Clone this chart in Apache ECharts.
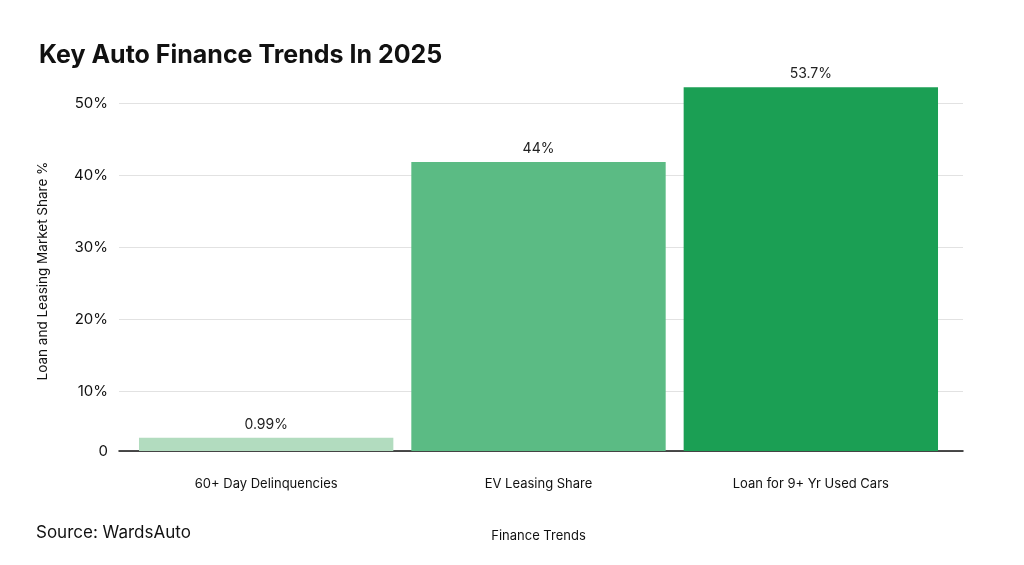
<!DOCTYPE html>
<html>
<head>
<meta charset="utf-8">
<script src="https://cdn.jsdelivr.net/npm/echarts@6/dist/echarts.min.js"></script>
<style>
  html, body { margin: 0; padding: 0; background: #fff; }
  #chart { width: 1024px; height: 565px; }
</style>
</head>
<body>
<div id="chart"></div>
<script>
const categories = ['60+ Day Delinquencies', 'EV Leasing Share', 'Loan for 9+ Yr Used Cars'];
// bar heights as drawn in the picture (axis baseline sits a bit above zero)
const barValues = [3.5, 41.8, 52.2];
const barLabels = ['0.99%', '44%', '53.7%'];
const barColors = ['#b2dcbf', '#5bbb84', '#1b9f54'];
const yTicks = [10, 20, 30, 40, 50];
const yMin = 1.67;
const yMax = 55;

const font = 'Inter, "Noto Sans", sans-serif';

const chart = echarts.init(document.getElementById('chart'), null, { renderer: 'canvas' });

const option = {
  animation: false,
  textStyle: { fontFamily: font },
  title: {
    text: 'Key Auto Finance Trends In 2025',
    left: 34,
    top: 38,
    textStyle: { fontFamily: font, fontSize: 25, fontWeight: 'bold', color: '#111' }
  },
  graphic: [
    {
      type: 'text',
      left: 36,
      top: 524,
      style: { text: 'Source: WardsAuto', font: '17px ' + font, fill: '#111' }
    },
    {
      type: 'text',
      x: 43,
      y: 271,
      rotation: Math.PI / 2,
      style: {
        text: 'Loan and Leasing Market Share %',
        font: '13.5px ' + font,
        fill: '#111',
        align: 'center',
        verticalAlign: 'middle'
      }
    }
  ],
  grid: [
    { left: 119, right: 61, top: 67, bottom: 114 },
    { left: 130, right: 77, top: 67, bottom: 114 }
  ],
  xAxis: [
    {
      type: 'category',
      gridIndex: 0,
      data: categories,
      axisLine: { lineStyle: { color: '#111', width: 1.5 } },
      axisTick: { show: false },
      axisLabel: { show: false }
    },
    {
      type: 'category',
      gridIndex: 1,
      data: categories,
      axisLine: { show: false },
      axisTick: { show: false },
      axisLabel: { margin: 27, fontSize: 13, color: '#111', fontFamily: font },
      name: 'Finance Trends',
      nameLocation: 'middle',
      nameGap: 79,
      nameTextStyle: { fontSize: 13, color: '#111', fontFamily: font }
    }
  ],
  yAxis: [
    {
      type: 'value',
      gridIndex: 0,
      min: yMin,
      max: yMax,
      axisLine: { show: false },
      axisTick: { show: false, customValues: [yMin].concat(yTicks) },
      axisLabel: {
        customValues: [yMin].concat(yTicks),
        margin: 11,
        fontSize: 15,
        color: '#111',
        fontFamily: font,
        formatter: v => (v === yMin ? '0' : v + '%')
      },
      splitLine: { show: true, lineStyle: { color: '#e2e2e2', width: 1 } }
    },
    {
      type: 'value',
      gridIndex: 1,
      min: yMin,
      max: yMax,
      show: false,
      splitLine: { show: false }
    }
  ],
  series: [
    {
      type: 'bar',
      xAxisIndex: 1,
      yAxisIndex: 1,
      barCategoryGap: '6.6%',
      data: barValues.map((v, i) => ({ value: v, itemStyle: { color: barColors[i] } })),
      label: {
        show: true,
        position: 'top',
        distance: 6,
        fontSize: 14,
        color: '#222',
        fontFamily: font,
        formatter: p => barLabels[p.dataIndex]
      }
    }
  ]
};

chart.setOption(option);
</script>
</body>
</html>
